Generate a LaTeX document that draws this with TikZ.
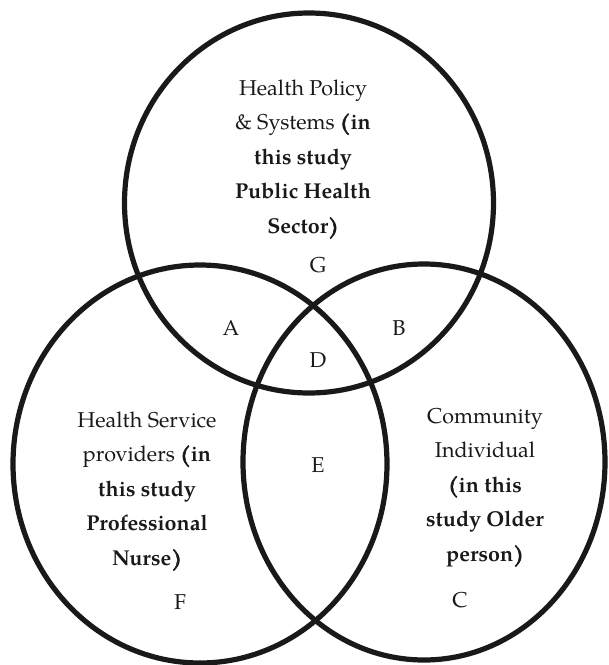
\documentclass[tikz,border=0pt]{standalone}
\usepackage{fontspec}
\setmainfont{TeX Gyre Pagella}
\newcommand\heavyparen[1]{{\addfontfeature{FakeBold=2.5}#1}}
\begin{document}
\begin{tikzpicture}[x=1pt,y=-1pt,
  ring/.style={draw=black!90,line width=5.2pt},
  blocktext/.style={inner sep=0pt,anchor=base,text=black!90,font=\fontsize{21.5}{34.6}\selectfont},
  region/.style={inner sep=0pt,anchor=center,text=black!90,font=\fontsize{21.5}{34.6}\selectfont}]
\useasboundingbox (0,0) rectangle (609,665);
\coordinate (ctop) at (309,203);
\coordinate (cleft) at (200,464);
\coordinate (cright) at (424,462);
\draw[ring] (ctop) ellipse [x radius=184.5pt, y radius=190pt];
\draw[ring] (cleft) ellipse [x radius=187pt, y radius=199pt];
\draw[ring] (cright) ellipse [x radius=181pt, y radius=198pt];
\node[blocktext] (ttop) at (303,95) {\setlength{\tabcolsep}{0pt}\begin{tabular}[t]{c}Health Policy\\ \& Systems \textbf{\heavyparen{(}in}\\ \textbf{this study}\\ \textbf{Public Health}\\ \textbf{Sector\heavyparen{)}}\end{tabular}};
\node[blocktext] (tleft) at (147,427) {\setlength{\tabcolsep}{0pt}\begin{tabular}[t]{c}Health Service\\ providers \textbf{\heavyparen{(}in}\\ \textbf{this study}\\ \textbf{Professional}\\ \textbf{Nurse\heavyparen{)}}\end{tabular}};
\node[blocktext] (tright) at (485,423) {\setlength{\tabcolsep}{0pt}\begin{tabular}[t]{c}Community\\ Individual\\ \textbf{\heavyparen{(}in this}\\ \textbf{study Older}\\ \textbf{person\heavyparen{)}}\end{tabular}};
\node[region] (lG) at (318,265) {G};
\node[region] (lA) at (231,328) {A};
\node[region] (lB) at (399,328) {B};
\node[region] (lD) at (318,360) {D};
\node[region] (lE) at (318,465) {E};
\node[region] (lF) at (180,602) {F};
\node[region] (lC) at (460,600) {C};
\end{tikzpicture}
\end{document}
